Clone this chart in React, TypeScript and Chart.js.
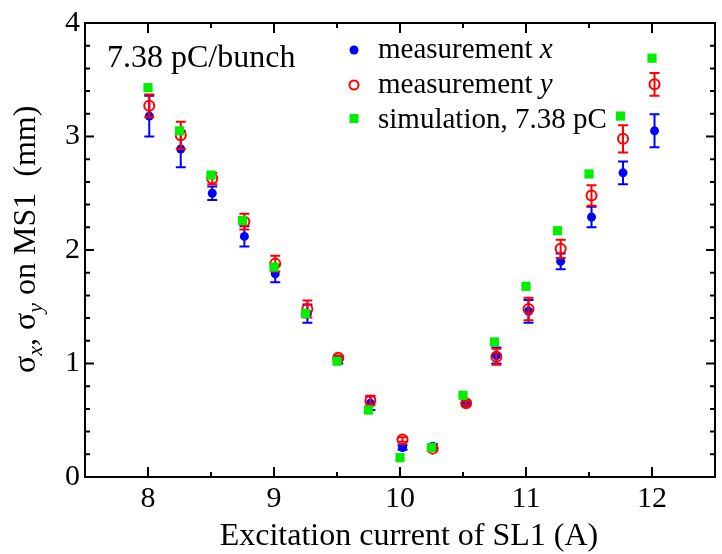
import React, { useEffect, useRef } from 'react';
import { Chart, registerables } from 'chart.js';

Chart.register(...registerables);

// Simulation (green squares)
const simCurrent = [8.0, 8.25, 8.5, 8.75, 9.0, 9.25, 9.5, 9.75, 10.0, 10.25, 10.5, 10.75, 11.0, 11.25, 11.5, 11.75, 12.0];
const simSigma = [3.43, 3.05, 2.66, 2.26, 1.85, 1.44, 1.02, 0.59, 0.17, 0.26, 0.72, 1.19, 1.68, 2.17, 2.67, 3.18, 3.69];

// Measurements
const measCurrent = [8.01, 8.26, 8.51, 8.765, 9.01, 9.265, 9.51, 9.765, 10.02, 10.26, 10.525, 10.765, 11.02, 11.275, 11.52, 11.77, 12.02];
const sigmaX = [3.18, 2.89, 2.5, 2.12, 1.79, 1.44, 1.03, 0.65, 0.26, 0.27, 0.65, 1.07, 1.46, 1.9, 2.29, 2.68, 3.05];
const errX = [0.18, 0.16, 0.06, 0.09, 0.075, 0.08, 0.03, 0.06, 0.02, 0.02, 0.02, 0.07, 0.1, 0.07, 0.09, 0.1, 0.145];
const sigmaY = [3.27, 3.01, 2.63, 2.25, 1.88, 1.48, 1.05, 0.675, 0.33, 0.25, 0.65, 1.06, 1.48, 2.01, 2.48, 2.98, 3.46];
const errY = [0.1, 0.12, 0.05, 0.07, 0.07, 0.075, 0.02, 0.04, 0.02, 0.02, 0.02, 0.07, 0.1, 0.08, 0.09, 0.12, 0.1];

// Axes
const xMin = 7.5;
const xMax = 12.5;
const yMin = 0;
const yMax = 4;
const xMajorTicks = [8, 9, 10, 11, 12];
const xMinorTicks = [8.5, 9.5, 10.5, 11.5];
const yMajorTicks = [0, 1, 2, 3, 4];
const yMinorTicks = [0.2, 0.4, 0.6, 0.8, 1.2, 1.4, 1.6, 1.8, 2.2, 2.4, 2.6, 2.8, 3.2, 3.4, 3.6, 3.8];

const BLUE = '#0000ff';
const RED = '#ff0000';
const GREEN = '#00ee00';
const SERIF = '"Liberation Serif", "DejaVu Serif", serif';

Chart.defaults.font.family = SERIF;

const errorMap: Record<string, { err: number[]; color: string }> = {
  'measurement x': { err: errX, color: BLUE },
  'measurement y': { err: errY, color: RED },
};

const errorBarPlugin = {
  id: 'errorBars',
  beforeDatasetDraw(chart: any, args: any) {
    const ds = chart.data.datasets[args.index];
    const info = errorMap[ds.label];
    if (!info) return;
    const ctx = chart.ctx;
    const xs = chart.scales.x;
    const ys = chart.scales.y;
    ctx.save();
    ctx.strokeStyle = info.color;
    ctx.lineWidth = 2;
    ds.data.forEach((p: any, i: number) => {
      const px = xs.getPixelForValue(p.x);
      const yLo = ys.getPixelForValue(p.y - info.err[i]);
      const yHi = ys.getPixelForValue(p.y + info.err[i]);
      ctx.beginPath();
      ctx.moveTo(px, yLo);
      ctx.lineTo(px, yHi);
      ctx.moveTo(px - 5, yLo);
      ctx.lineTo(px + 5, yLo);
      ctx.moveTo(px - 5, yHi);
      ctx.lineTo(px + 5, yHi);
      ctx.stroke();
    });
    ctx.restore();
  },
};

const framePlugin = {
  id: 'frame',
  afterDraw(chart: any) {
    const ctx = chart.ctx;
    const { left, right, top, bottom } = chart.chartArea;
    const xs = chart.scales.x;
    const ys = chart.scales.y;
    ctx.save();
    ctx.strokeStyle = '#000';
    ctx.lineWidth = 2;
    ctx.strokeRect(left, top, right - left, bottom - top);
    ctx.beginPath();
    const tick = (vals: number[], len: number) => {
      vals.forEach((v) => {
        const px = xs.getPixelForValue(v);
        ctx.moveTo(px, bottom);
        ctx.lineTo(px, bottom - len);
        ctx.moveTo(px, top);
        ctx.lineTo(px, top + len);
      });
    };
    const ytick = (vals: number[], len: number) => {
      vals.forEach((v) => {
        const py = ys.getPixelForValue(v);
        ctx.moveTo(left, py);
        ctx.lineTo(left + len, py);
        ctx.moveTo(right, py);
        ctx.lineTo(right - len, py);
      });
    };
    tick(xMajorTicks, 10);
    tick(xMinorTicks, 5);
    ytick(yMajorTicks, 9);
    ytick(yMinorTicks, 5);
    ctx.stroke();

    // x-axis title
    ctx.fillStyle = '#000';
    ctx.font = `32px ${SERIF}`;
    ctx.textAlign = 'center';
    ctx.textBaseline = 'alphabetic';
    ctx.fillText('Excitation current of SL1 (A)', 409, 545);

    // y-axis title with subscripts
    ctx.save();
    ctx.translate(35, 373);
    ctx.rotate(-Math.PI / 2);
    ctx.textAlign = 'left';
    const parts: { t: string; font: string; dy: number }[] = [
      { t: 'σ', font: `32px ${SERIF}`, dy: 0 },
      { t: 'x', font: `italic 22px ${SERIF}`, dy: 7 },
      { t: ', σ', font: `32px ${SERIF}`, dy: 0 },
      { t: 'y', font: `italic 22px ${SERIF}`, dy: 7 },
      { t: ' on MS1  (mm)', font: `32px ${SERIF}`, dy: 0 },
    ];
    let cx = 0;
    parts.forEach((p) => {
      ctx.font = p.font;
      ctx.fillText(p.t, cx, p.dy);
      cx += ctx.measureText(p.t).width;
    });
    ctx.restore();

    // annotation
    ctx.font = `32px ${SERIF}`;
    ctx.textAlign = 'left';
    ctx.fillText('7.38 pC/bunch', 107, 67);

    // legend
    const legX = 354;
    const textX = 378;
    const rows = [58, 93, 128];
    ctx.fillStyle = BLUE;
    ctx.beginPath();
    ctx.arc(legX, rows[0] - 8, 4.5, 0, Math.PI * 2);
    ctx.fill();
    ctx.strokeStyle = RED;
    ctx.lineWidth = 2;
    ctx.beginPath();
    ctx.arc(legX, rows[1] - 8, 4.5, 0, Math.PI * 2);
    ctx.stroke();
    ctx.fillStyle = GREEN;
    ctx.fillRect(legX - 4.5, rows[2] - 14, 9, 9);

    ctx.fillStyle = '#000';
    const legendLine = (plain: string, ital: string, y: number) => {
      ctx.font = `29px ${SERIF}`;
      ctx.fillText(plain, textX, y);
      const w = ctx.measureText(plain).width;
      if (ital) {
        ctx.font = `italic 29px ${SERIF}`;
        ctx.fillText(ital, textX + w, y);
      }
    };
    legendLine('measurement ', 'x', rows[0]);
    legendLine('measurement ', 'y', rows[1]);
    legendLine('simulation, 7.38 pC', '', rows[2]);
    ctx.restore();
  },
};

export default function App() {
  const canvasRef = useRef<HTMLCanvasElement | null>(null);

  useEffect(() => {
    document.body.style.margin = '0';
    const canvas = canvasRef.current;
    if (!canvas) return;
    const toPts = (xs: number[], ys: number[]) => xs.map((x, i) => ({ x, y: ys[i] }));
    const chart = new Chart(canvas, {
      type: 'scatter',
      data: {
        datasets: [
          {
            label: 'measurement x',
            data: toPts(measCurrent, sigmaX),
            pointStyle: 'circle',
            pointRadius: 4.5,
            backgroundColor: BLUE,
            borderColor: BLUE,
            borderWidth: 0,
            order: 3,
          },
          {
            label: 'measurement y',
            data: toPts(measCurrent, sigmaY),
            pointStyle: 'circle',
            pointRadius: 5,
            backgroundColor: 'rgba(0,0,0,0)',
            borderColor: RED,
            borderWidth: 2,
            order: 2,
          },
          {
            label: 'simulation, 7.38 pC',
            data: toPts(simCurrent, simSigma),
            pointStyle: 'rect',
            pointRadius: 6.5,
            backgroundColor: GREEN,
            borderColor: GREEN,
            borderWidth: 0,
            order: 1,
          },
        ],
      },
      options: {
        animation: false,
        responsive: false,
        devicePixelRatio: 1,
        layout: { padding: { top: 21, right: 1, left: 0, bottom: 0 } },
        plugins: {
          legend: { display: false },
          tooltip: { enabled: false },
          title: { display: false },
        },
        scales: {
          x: {
            type: 'linear',
            min: xMin,
            max: xMax,
            afterBuildTicks: (scale: any) => {
              scale.ticks = xMajorTicks.map((v) => ({ value: v }));
            },
            afterFit: (scale: any) => {
              scale.height = 77;
            },
            grid: { display: false, drawTicks: false },
            border: { display: false },
            ticks: {
              padding: 4,
              color: '#000',
              font: { family: SERIF, size: 30, style: 'normal', weight: 'normal' },
              maxRotation: 0,
            },
          },
          y: {
            type: 'linear',
            min: yMin,
            max: yMax,
            afterBuildTicks: (scale: any) => {
              scale.ticks = yMajorTicks.map((v) => ({ value: v }));
            },
            afterFit: (scale: any) => {
              scale.width = 85;
            },
            grid: { display: false, drawTicks: false },
            border: { display: false },
            ticks: {
              padding: 5,
              color: '#000',
              font: { family: SERIF, size: 30, style: 'normal', weight: 'normal' },
            },
          },
        },
      },
      plugins: [errorBarPlugin, framePlugin],
    });
    return () => chart.destroy();
  }, []);

  return (
    <div style={{ position: 'absolute', left: 0, top: 0, width: 722, height: 554, background: '#fff' }}>
      <canvas ref={canvasRef} width={722} height={554} />
    </div>
  );
}
